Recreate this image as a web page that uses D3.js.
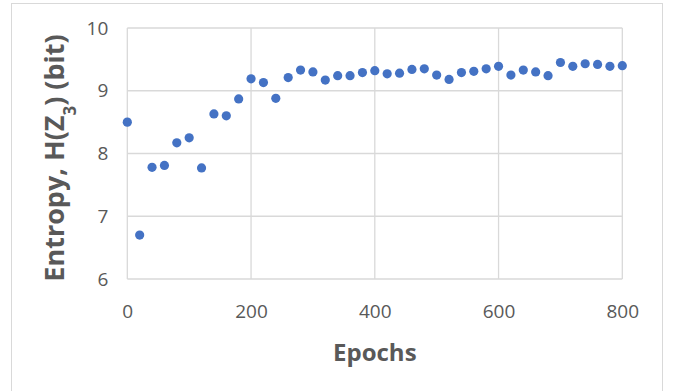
<!DOCTYPE html>
<html>
<head>
<meta charset="utf-8">
<script src="https://cdn.jsdelivr.net/npm/d3@7"></script>
<style>
  body { margin: 0; background: #fff; }
  svg { display: block; }
</style>
</head>
<body>
<div class="canvas"></div>
<script>
// data
const epochs = [0, 20, 40, 60, 80, 100, 120, 140, 160, 180, 200, 220, 240, 260, 280, 300, 320, 340, 360, 380,
  400, 420, 440, 460, 480, 500, 520, 540, 560, 580, 600, 620, 640, 660, 680, 700, 720, 740, 760, 780, 800];
const entropy = [8.50, 6.70, 7.78, 7.81, 8.17, 8.25, 7.77, 8.63, 8.60, 8.87, 9.19, 9.13, 8.88, 9.21, 9.33, 9.30, 9.17, 9.24, 9.24, 9.29,
  9.32, 9.27, 9.28, 9.34, 9.35, 9.25, 9.18, 9.29, 9.31, 9.35, 9.39, 9.25, 9.33, 9.30, 9.24, 9.45, 9.39, 9.43, 9.42, 9.39, 9.40];
const xTicks = [0, 200, 400, 600, 800];
const yTicks = [6, 7, 8, 9, 10];

const width = 674;
const height = 391;
const margin = { top: 28, right: 51.7, bottom: 112, left: 127.3 };
const graphWidth = width - margin.left - margin.right;
const graphHeight = height - margin.top - margin.bottom;

const svg = d3
  .select(".canvas")
  .append("svg")
  .attr("width", width)
  .attr("height", height);

// chart border
svg.append("rect")
  .attr("x", 11.5)
  .attr("y", 3.5)
  .attr("width", 651)
  .attr("height", 400)
  .attr("fill", "none")
  .attr("stroke", "#d9d9d9");

const graph = svg
  .append("g")
  .attr("transform", `translate(${margin.left},${margin.top})`);

const x = d3.scaleLinear().domain([0, 800]).range([0, graphWidth]);
const y = d3.scaleLinear().domain([6, 10]).range([graphHeight, 0]);

// gridlines
graph.append("g")
  .selectAll("line.h")
  .data(yTicks)
  .join("line")
  .attr("x1", 0)
  .attr("x2", graphWidth)
  .attr("y1", (d) => y(d))
  .attr("y2", (d) => y(d))
  .attr("stroke", "#d9d9d9")
  .attr("stroke-width", 1.3);

graph.append("g")
  .selectAll("line.v")
  .data(xTicks)
  .join("line")
  .attr("x1", (d) => x(d))
  .attr("x2", (d) => x(d))
  .attr("y1", 0)
  .attr("y2", graphHeight)
  .attr("stroke", "#d9d9d9")
  .attr("stroke-width", 1.3);

// axes (labels only)
const xAxis = d3.axisBottom(x).tickValues(xTicks).tickSize(0).tickPadding(26);
const yAxis = d3.axisLeft(y).tickValues(yTicks).tickFormat(d3.format("d")).tickSize(0).tickPadding(19);

const xAxisGroup = graph.append("g")
  .attr("transform", `translate(0,${graphHeight})`)
  .call(xAxis);
const yAxisGroup = graph.append("g").call(yAxis);

[xAxisGroup, yAxisGroup].forEach((g) => {
  g.select(".domain").remove();
  g.selectAll("text")
    .attr("fill", "#595959")
    .style("font-family", "'Open Sans', sans-serif")
    .style("font-size", "19px");
});

// points
graph.append("g")
  .selectAll("circle")
  .data(epochs.map((e, i) => ({ e, v: entropy[i] })))
  .join("circle")
  .attr("cx", (d) => x(d.e))
  .attr("cy", (d) => y(d.v))
  .attr("r", 4.6)
  .attr("fill", "#4472c4");

// axis titles
svg.append("text")
  .attr("x", margin.left + graphWidth / 2)
  .attr("y", 361)
  .attr("text-anchor", "middle")
  .attr("fill", "#595959")
  .style("font-family", "'Open Sans', sans-serif")
  .style("font-weight", "bold")
  .style("font-size", "24px")
  .text("Epochs");

const yTitle = svg.append("text")
  .attr("transform", "translate(64,158) rotate(-90)")
  .attr("text-anchor", "middle")
  .attr("fill", "#595959")
  .style("font-family", "'Open Sans', sans-serif")
  .style("font-weight", "bold")
  .style("font-size", "27px");
yTitle.append("tspan").text("Entropy, H(Z");
yTitle.append("tspan").attr("baseline-shift", "sub").style("font-size", "17px").text("3");
yTitle.append("tspan").text(") (bit)");
</script>
</body>
</html>
